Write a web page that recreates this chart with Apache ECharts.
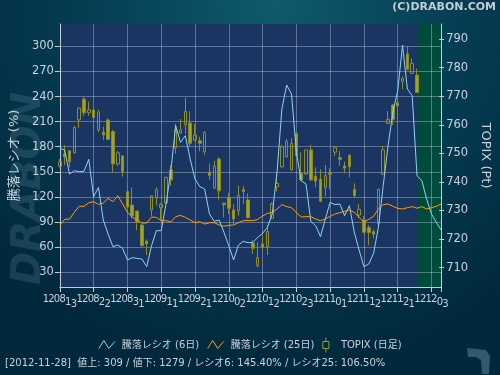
<!DOCTYPE html>
<html><head><meta charset="utf-8">
<script src="https://cdn.jsdelivr.net/npm/echarts@6/dist/echarts.min.js"></script>
<style>html,body{margin:0;padding:0;background:#02283b;}#c{width:500px;height:375px;}</style>
</head><body><div id="c"></div>
<script>
// ---- data ----
const dates = ['120813','120814','120815','120816','120817','120820','120821','120822','120823','120824',
'120827','120828','120829','120830','120831','120903','120904','120905','120906','120907',
'120910','120911','120912','120913','120914','120918','120919','120920','120921','120924',
'120925','120926','120927','120928','121001','121002','121003','121004','121005','121009',
'121010','121011','121012','121015','121016','121017','121018','121019','121022','121023',
'121024','121025','121026','121029','121030','121031','121101','121102','121105','121106',
'121107','121108','121109','121112','121113','121114','121115','121116','121119','121120',
'121121','121122','121126','121127','121128','121129','121130','121203','121204','121205'];

const tickEvery = 7;   // a date label on every 7th trading day

const topixOpen  = [745.5,749.8,750.9,750.2,761.7,769.0,764.2,765.2,758.2,757.4,761.7,757.6,746.3,749.1,736.6,731.9,729.8,724.9,719.3,730.2,
734.3,731.0,732.7,744.2,751.9,757.1,760.0,760.6,754.7,754.4,750.6,743.4,737.9,748.0,732.6,734.4,730.2,729.9,737.3,733.7,
718.6,710.7,718.3,717.4,727.3,738.3,745.3,748.8,744.2,757.0,743.0,742.8,751.2,742.0,741.0,738.1,743.2,750.4,748.5,745.6,
749.4,737.4,728.4,726.7,724.0,722.6,725.5,742.7,760.5,766.9,767.7,775.1,784.8,778.0,777.4];
const topixClose = [747.1,748.8,747.1,759.1,765.8,764.2,765.2,762.5,764.4,756.4,754.9,746.3,750.2,743.6,731.2,728.1,726.1,717.7,718.3,735.1,
737.3,732.2,741.6,740.7,758.2,758.2,764.7,753.5,756.4,753.5,757.4,742.2,745.5,736.9,732.0,730.8,727.0,735.3,736.6,727.5,
716.8,713.6,717.1,722.7,732.3,739.5,752.3,754.2,753.5,749.2,740.7,751.2,740.7,740.2,733.2,742.2,742.7,752.0,747.9,744.8,
745.3,735.2,730.4,722.4,722.3,721.7,737.4,751.2,761.9,761.9,766.6,776.2,779.4,781.5,771.3];
const topixLow   = [745.1,745.9,745.1,749.8,758.8,763.1,763.1,758.4,757.4,754.7,754.7,743.2,745.6,741.8,730.8,727.3,723.0,717.4,714.4,728.1,
731.7,726.7,732.3,738.6,750.0,756.8,756.8,752.1,754.2,750.7,749.5,740.7,737.5,733.8,727.6,728.8,725.3,728.2,732.3,727.3,
714.8,710.1,716.0,714.4,727.0,736.7,744.9,748.4,743.9,748.8,740.4,742.5,740.4,738.1,732.9,735.1,737.4,749.1,745.6,743.0,
741.6,734.3,727.3,722.0,717.9,720.3,724.3,742.4,760.2,759.9,762.0,772.4,779.2,777.8,771.2];
const topixHigh  = [748.0,752.9,751.2,759.7,766.1,769.8,768.1,765.8,765.2,759.3,762.3,758.2,750.8,749.4,739.5,738.0,729.9,725.3,719.9,735.3,
738.1,732.5,741.8,745.9,760.3,762.0,769.4,764.7,760.3,755.8,757.7,746.5,747.4,748.6,732.6,736.2,732.3,738.7,738.6,736.0,
719.5,718.9,721.1,724.7,732.9,742.8,753.0,755.0,755.3,757.4,750.4,751.2,753.0,745.1,744.5,745.9,744.8,752.6,750.9,747.1,
749.4,739.5,732.3,728.1,724.9,723.4,737.8,752.6,764.8,767.3,769.8,776.9,787.6,783.2,779.7];

const ratio6 = [178.1,176.1,147.4,151.4,150.2,150.6,164.9,120.3,131.5,92.4,
75.7,60.6,62.5,58.6,44.6,47.4,46.6,45.8,36.7,61.8,
79.7,79.7,111.6,151.4,205.2,185.3,193.2,165.3,141.4,132.3,
129.5,99.6,90.8,92.4,77.7,61.8,44.6,62.5,66.9,65.3,
65.7,71.7,76.5,83.7,99.6,149.4,225.1,253.8,243.0,173.3,
139.4,135.5,90.8,85.7,72.5,93.6,113.5,110.8,111.6,97.6,
109.6,77.7,56.6,36.7,39.8,52.6,83.7,133.5,181.3,221.1,
247.0,301.6,249.0,241.0,145.4,139.4,117.5,99.6,89.6,80.5];

const ratio25 = [86.1,93.2,93.6,101.6,108.8,108.8,113.1,114.3,111.2,112.7,
118.3,114.3,121.5,111.6,101.6,96.0,92.0,88.8,88.8,96.0,
95.6,91.6,91.6,90.0,96.4,98.0,95.6,92.4,89.2,90.4,
87.6,89.2,89.2,86.5,84.9,86.1,86.5,89.2,91.6,92.0,
91.6,93.2,97.2,100.4,101.2,105.6,110.8,108.4,107.2,101.2,
96.0,96.4,96.4,93.6,91.6,93.6,96.8,99.6,101.2,102.8,
104.4,101.6,95.6,90.0,93.2,96.8,105.6,110.8,111.6,108.8,
106.4,105.6,107.2,108.4,106.5,108.4,105.6,107.2,108.8,111.6];

const leftTicks  = [30,60,90,120,150,180,210,240,270,300];
const rightTicks = [710,720,730,740,750,760,770,780,790];
const forecastStart = '121128';
const forecastEnd = '121205';
const infoText = '[2012-11-28]  値上: 309 / 値下: 1279 / レシオ6: 145.40% / レシオ25: 106.50%';

// ---- chart ----
const candles = topixOpen.map((o, i) => [o, topixClose[i], topixLow[i], topixHigh[i]]);
const TXT = '#c9d1da';
const FONT = "'DejaVu Sans','Noto Sans CJK JP',sans-serif";
const GRIDC = 'rgba(200,210,232,0.40)';
const AXC = '#c4ccd8';
const N6 = '騰落レシオ (6日)', N25 = '騰落レシオ (25日)', NT = 'TOPIX (日足)';
const richStyle = pad => ({fontSize: 10, width: 5.6, verticalAlign: 'top', color: TXT, fontFamily: FONT, padding: [pad, 0, 0, 0]});

const chart = echarts.init(document.getElementById('c'), null, {renderer: 'canvas', width: 500, height: 375});
chart.setOption({
  animation: false,
  backgroundColor: {type: 'radial', x: 0.55, y: 0.0, r: 1.0,
    colorStops: [{offset: 0, color: '#0e5b6b'}, {offset: 0.5, color: '#053d53'}, {offset: 1, color: '#01283c'}]},
  textStyle: {fontFamily: FONT},
  grid: {left: 58, right: 53, top: 24, bottom: 88, show: true, backgroundColor: '#1a3561', borderWidth: 0},
  legend: {
    top: 332, left: 'center', itemGap: 8, itemWidth: 20, itemHeight: 15,
    textStyle: {color: TXT, fontSize: 10, fontFamily: FONT},
    selectedMode: false,
    data: [
      {name: N6, icon: 'path://M0,0M0,15M0,11L5,3L10,11L16,4', itemStyle: {color: 'rgba(0,0,0,0)', borderColor: '#8dd3f2', borderWidth: 1}},
      {name: N25, icon: 'path://M0,0M0,15M0,11L5,3L10,11L16,4', itemStyle: {color: 'rgba(0,0,0,0)', borderColor: '#ffa000', borderWidth: 1}},
      {name: NT, icon: 'path://M4,0V4M1,4H7V11H1ZM4,11V15', itemStyle: {color: 'rgba(0,0,0,0)', borderColor: '#9a9a22', borderWidth: 1}}
    ]
  },
  xAxis: {
    type: 'category', data: dates, boundaryGap: false, z: 1.5,
    axisLine: {lineStyle: {color: AXC, width: 1}},
    axisTick: {show: true, interval: tickEvery - 1, length: 5, lineStyle: {color: AXC}},
    splitLine: {show: true, interval: tickEvery - 1, lineStyle: {color: GRIDC, width: 1}},
    axisLabel: {
      interval: 0, margin: 7, color: TXT, showMinLabel: true, showMaxLabel: false,
      formatter: (v, idx) => idx % tickEvery !== 0 ? '' :
        v.split('').map((ch, k) => '{' + ['a','a','a','a','b','c'][k] + '|' + ch + '}').join(''),
      rich: {a: richStyle(0), b: richStyle(3), c: richStyle(5)}
    }
  },
  yAxis: [
    {
      type: 'value', position: 'left', min: 12.35, max: 326.7, z: 1.5,
      name: '騰落レシオ (%)', nameLocation: 'middle', nameGap: 31,
      nameTextStyle: {color: TXT, fontSize: 13, fontFamily: FONT},
      axisLine: {show: true, lineStyle: {color: AXC, width: 1}},
      axisTick: {show: true, length: 5, customValues: leftTicks, lineStyle: {color: AXC}},
      axisLabel: {color: TXT, fontSize: 11.5, margin: 6, customValues: leftTicks},
      splitLine: {show: true, lineStyle: {color: GRIDC, width: 1}}
    },
    {
      type: 'value', position: 'right', min: 703.24, max: 795.25, z: 1.5,
      name: 'TOPIX (Pt)', nameLocation: 'middle', nameGap: 33, nameRotate: -90,
      nameTextStyle: {color: TXT, fontSize: 13, fontFamily: FONT},
      axisLine: {show: true, lineStyle: {color: AXC, width: 1}},
      axisTick: {show: true, length: 3, customValues: rightTicks, lineStyle: {color: AXC}},
      axisLabel: {color: TXT, fontSize: 11.5, margin: 5, customValues: rightTicks},
      splitLine: {show: false}
    },
    {
      type: 'value', position: 'right', min: 703.24, max: 795.25, z: 1.5,
      axisLine: {show: false},
      axisTick: {show: true, inside: true, length: 2, customValues: rightTicks, lineStyle: {color: AXC}},
      axisLabel: {show: false},
      splitLine: {show: false}
    }
  ],
  graphic: [
    {type: 'text', left: 10, top: 92, z: 0, silent: true, rotation: Math.PI / 2, originX: 0, originY: 0,
      style: {text: 'DRABON', x: 0, y: 0, fill: 'rgba(120,152,172,0.22)', font: 'italic bold 40px "DejaVu Sans"'}},
    {type: 'text', right: 4, top: 2, silent: true,
      style: {text: '(C)DRABON.COM', fill: '#c3cbd3', font: 'bold 11px "DejaVu Sans"'}},
    {type: 'text', left: 5, top: 358, silent: true,
      style: {text: infoText, fill: TXT, font: '10px "DejaVu Sans","Noto Sans CJK JP"'}},
    {type: 'polygon', silent: true, z: 0,
      shape: {points: [[467, 348], [486, 350], [490, 356], [489, 374], [482, 374], [481, 360], [476, 357], [468, 357]]},
      style: {fill: 'rgba(95,130,150,0.55)'}}
  ],
  series: [
    {
      name: NT, type: 'candlestick', yAxisIndex: 1, data: candles, barWidth: 3, clip: false, z: 2,
      itemStyle: {color: 'rgba(0,0,0,0)', color0: '#a3a323', borderColor: '#8e8e24', borderColor0: '#8b8b1e', borderWidth: 1},
      markArea: {silent: true, z: 1, label: {show: false}, itemStyle: {color: '#014b3c'},
        data: [[{xAxis: forecastStart}, {xAxis: forecastEnd}]]}
    },
    {
      name: N6, type: 'line', yAxisIndex: 0, data: ratio6, symbol: 'none', z: 3,
      lineStyle: {color: '#8dd3f2', width: 1}, itemStyle: {color: '#8dd3f2'}
    },
    {
      name: N25, type: 'line', yAxisIndex: 0, data: ratio25, symbol: 'none', z: 3,
      lineStyle: {color: '#ffa000', width: 1}, itemStyle: {color: '#ffa000'}
    }
  ]
});
</script></body></html>
